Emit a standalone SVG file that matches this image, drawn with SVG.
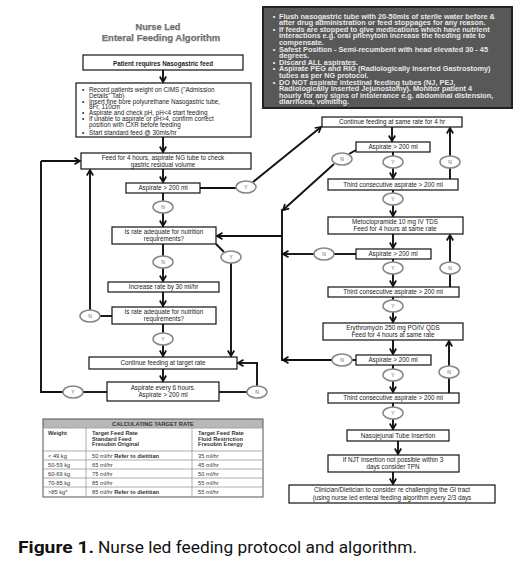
<svg xmlns="http://www.w3.org/2000/svg" width="518" height="563" viewBox="0 0 518 563">
<style>
.box{fill:#fff;stroke:#111;stroke-width:1.2}
.t{font-family:"Liberation Sans",Arial,sans-serif;font-size:6.3px;fill:#222}
.c{text-anchor:middle}
.b{font-weight:bold}
.el{fill:#fff;stroke:#888;stroke-width:1.5}
.et{font-family:"Liberation Sans",Arial,sans-serif;font-size:5px;fill:#666;text-anchor:middle}
.nt{font-family:"Liberation Sans",Arial,sans-serif;font-size:6.5px;font-weight:bold;fill:#e8e8e8}
.tt{font-family:"Liberation Sans",Arial,sans-serif;font-size:5.7px;fill:#333}
.ln{fill:none;stroke:#111;stroke-width:1.9}
.ar{fill:none;stroke:#111;stroke-width:1.9;marker-end:url(#ah)}
.grid{stroke:#999;stroke-width:0.8}
</style>
<defs>
<marker id="ah" viewBox="0 0 8 8" refX="6.5" refY="4" markerWidth="8" markerHeight="8" markerUnits="userSpaceOnUse" orient="auto">
<path d="M1,0.8 L6.5,4 L1,7.2" fill="none" stroke="#111" stroke-width="1.7"/>
</marker>
</defs>
<rect width="518" height="563" fill="#fff"/>

<g id="title">
<text x="158" y="30" class="c b" font-family="Liberation Sans,Arial,sans-serif" font-size="9.2" fill="#7a7a7a" stroke="#555" stroke-width="0.25">Nurse Led</text>
<text x="161" y="41" class="c b" font-family="Liberation Sans,Arial,sans-serif" font-size="9.5" fill="#7a7a7a" stroke="#555" stroke-width="0.25">Enteral Feeding Algorithm</text>
</g>

<g id="notes">
<rect x="263" y="7" width="249" height="101" fill="#585858" stroke="#222" stroke-width="2"/>
<g transform="translate(279,0) scale(1.13,1) translate(-279,0)">
<text class="nt" x="273.5" y="18.7">•</text><text class="nt" x="279" y="18.7">Flush nasogastric tube with 20-50mls of sterile water before &amp;</text>
<text class="nt" x="279" y="25.3">after drug administration or feed stoppages for any reason.</text>
<text class="nt" x="273.5" y="31.9">•</text><text class="nt" x="279" y="31.9">If feeds are stopped to give medications which have nutrient</text>
<text class="nt" x="279" y="38.5">interactions e.g. oral phenytoin increase the feeding rate to</text>
<text class="nt" x="279" y="45.1">compensate.</text>
<text class="nt" x="273.5" y="51.7">•</text><text class="nt" x="279" y="51.7">Safest Position - Semi-recumbent with head elevated 30 - 45</text>
<text class="nt" x="279" y="58.3">degrees.</text>
<text class="nt" x="273.5" y="64.9">•</text><text class="nt" x="279" y="64.9">Discard ALL aspirates.</text>
<text class="nt" x="273.5" y="71.5">•</text><text class="nt" x="279" y="71.5">Aspirate PEG and RIG (Radiologically Inserted Gastrostomy)</text>
<text class="nt" x="279" y="78.1">tubes as per NG protocol.</text>
<text class="nt" x="273.5" y="84.7">•</text><text class="nt" x="279" y="84.7">DO NOT aspirate intestinal feeding tubes (NJ, PEJ,</text>
<text class="nt" x="279" y="91.3">Radiologically Inserted Jejunostomy). Monitor patient 4</text>
<text class="nt" x="279" y="97.9">hourly for any signs of intolerance e.g. abdominal distension,</text>
<text class="nt" x="279" y="104.5">diarrhoea, vomiting.</text>
</g>
</g>

<g id="n_patient">
<rect class="box" x="83" y="55" width="160" height="15" stroke-width="1.6"/>
<text class="t c b" x="163" y="65.5" font-size="7.8">Patient requires Nasogastric feed</text>
</g>

<g id="n_bullets">
<rect class="box" x="76" y="83" width="175" height="54"/>
<text class="t" x="82" y="92">•</text><text class="t" x="89" y="92">Record patients weight on CIMS ("Admission</text>
<text class="t" x="89" y="97.7">Details" Tab)</text>
<text class="t" x="82" y="103.7">•</text><text class="t" x="89" y="103.7">Insert fine bore polyurethane Nasogastric tube,</text>
<text class="t" x="89" y="109.2">8Fr, 110cm</text>
<text class="t" x="82" y="115.3">•</text><text class="t" x="89" y="115.3">Aspirate and check pH, pH&lt;4 start feeding</text>
<text class="t" x="82" y="121">•</text><text class="t" x="89" y="121">If unable to aspirate or pH&gt;4, confirm correct</text>
<text class="t" x="89" y="127">position with CXR before feeding</text>
<text class="t" x="82" y="134.5">•</text><text class="t" x="89" y="134.5">Start standard feed @ 30mls/hr</text>
</g>

<g id="n_feed4">
<rect class="box" x="81" y="153" width="170" height="16"/>
<text class="t c" x="163" y="159.8">Feed for 4 hours, aspirate NG tube to check</text>
<text class="t c" x="163" y="166.5">gastric residual volume</text>
</g>
<g id="n_asp1">
<rect class="box" x="126" y="183" width="74" height="10"/>
<text class="t c" x="163" y="190.4">Aspirate &gt; 200 ml</text>
</g>
<g id="n_rate1">
<rect class="box" x="112" y="227" width="104" height="17"/>
<text class="t c" x="164" y="234">Is rate adequate for nutrition</text>
<text class="t c" x="164" y="241">requirements?</text>
</g>
<g id="n_inc">
<rect class="box" x="108" y="282" width="111" height="10"/>
<text class="t c" x="163.5" y="289.4">Increase rate by 30 ml/hr</text>
</g>
<g id="n_rate2">
<rect class="box" x="112" y="307" width="104" height="17"/>
<text class="t c" x="164" y="314">Is rate adequate for nutrition</text>
<text class="t c" x="164" y="321">requirements?</text>
</g>
<g id="n_target">
<rect class="box" x="89" y="357" width="148" height="12"/>
<text class="t c" x="163" y="365.3">Continue feeding at target rate</text>
</g>
<g id="n_asp6">
<rect class="box" x="107" y="382" width="112" height="19"/>
<text class="t c" x="163" y="390">Aspirate every 6 hours.</text>
<text class="t c" x="163" y="397.3">Aspirate &gt; 200 ml</text>
</g>

<g id="n_same">
<rect class="box" x="322" y="117" width="140" height="10"/>
<text class="t c" x="392" y="124.4">Continue feeding at same rate for 4 hr</text>
</g>
<g id="n_aspr1">
<rect class="box" x="356" y="142" width="74" height="10"/>
<text class="t c" x="393" y="149.4">Aspirate &gt; 200 ml</text>
</g>
<g id="n_third1">
<rect class="box" x="328" y="179" width="130" height="11"/>
<text class="t c" x="393" y="186.9">Third consecutive aspirate &gt; 200 ml</text>
</g>
<g id="n_meto">
<rect class="box" x="328" y="217" width="135" height="17"/>
<text class="t c" x="395" y="224">Metoclopramide 10 mg IV TDS</text>
<text class="t c" x="395" y="231">Feed for 4 hours at same rate</text>
</g>
<g id="n_aspr2">
<rect class="box" x="356" y="249" width="75" height="10"/>
<text class="t c" x="393" y="256.4">Aspirate &gt; 200 ml</text>
</g>
<g id="n_third2">
<rect class="box" x="328" y="287" width="131" height="10"/>
<text class="t c" x="393" y="294.4">Third consecutive aspirate &gt; 200 ml</text>
</g>
<g id="n_ery">
<rect class="box" x="323" y="323" width="140" height="17"/>
<text class="t c" x="393" y="330">Erythromycin 250 mg PO/IV QDS</text>
<text class="t c" x="393" y="337">Feed for 4 hours at same rate</text>
</g>
<g id="n_aspr3">
<rect class="box" x="356" y="355" width="75" height="10"/>
<text class="t c" x="393" y="362.4">Aspirate &gt; 200 ml</text>
</g>
<g id="n_third3">
<rect class="box" x="328" y="393" width="131" height="10"/>
<text class="t c" x="393" y="400.4">Third consecutive aspirate &gt; 200 ml</text>
</g>
<g id="n_nj">
<rect class="box" x="347" y="430" width="102" height="11"/>
<text class="t c" x="398" y="437.8">Nasojejunal Tube Insertion</text>
</g>
<g id="n_njt">
<rect class="box" x="328" y="455" width="131" height="17"/>
<text class="t c" x="393" y="462">If NJT insertion not possible within 3</text>
<text class="t c" x="393" y="469">days consider TPN</text>
</g>
<g id="n_clin">
<rect class="box" x="289" y="485" width="206" height="18"/>
<text class="t c" x="392" y="492">Clinician/Dietician to consider re challenging the GI tract</text>
<text class="t c" x="392" y="499.5">(using nurse led enteral feeding algorithm every 2/3 days</text>
</g>

<g id="connectors">
<path class="ar" d="M163,70 V82"/>
<path class="ar" d="M163,137 V152"/>
<path class="ar" d="M163,169 V182"/>
<path class="ln" d="M163,193 V201"/>
<path class="ar" d="M163,213 V226"/>
<path class="ln" d="M163,244 V256"/>
<path class="ar" d="M163,268 V281"/>
<path class="ar" d="M163,292 V306"/>
<path class="ln" d="M163,324 V333"/>
<path class="ar" d="M163,345 V356"/>
<path class="ar" d="M163,369 V381"/>
<path class="ln" d="M200,188 H236"/>
<path class="ar" d="M253,182 L321,127"/>
<path class="ln" d="M216,244 L224,252"/>
<path class="ar" d="M231,263 V356"/>
<path class="ln" d="M112,316 H100"/>
<path class="ar" d="M90,310 V170"/>
<path class="ln" d="M107,392 H83"/>
<path class="ln" d="M63,392 H41 V161"/>
<path class="ar" d="M41,161 H80"/>
<path class="ln" d="M219,392 H247"/>
<path class="ln" d="M257,386 V363"/>
<path class="ar" d="M258,363 H238"/>
<path class="ar" d="M392,127 V141"/>
<path class="ln" d="M393,152 V156"/>
<path class="ar" d="M393,168 V178"/>
<path class="ln" d="M393,190 V193"/>
<path class="ar" d="M393,205 V216"/>
<path class="ar" d="M393,234 V248"/>
<path class="ln" d="M393,259 V262"/>
<path class="ar" d="M393,274 V286"/>
<path class="ln" d="M393,297 V300"/>
<path class="ar" d="M393,312 V322"/>
<path class="ar" d="M393,340 V354"/>
<path class="ln" d="M393,365 V369"/>
<path class="ar" d="M393,381 V392"/>
<path class="ln" d="M393,403 V407"/>
<path class="ar" d="M393,419 V429"/>
<path class="ar" d="M398,441 V454"/>
<path class="ar" d="M393,472 V484"/>
<path class="ln" d="M450,179 V168"/>
<path class="ar" d="M450,156 V128"/>
<path class="ln" d="M450,287 V274"/>
<path class="ar" d="M450,262 V235"/>
<path class="ln" d="M449,393 V378"/>
<path class="ar" d="M449,366 V341"/>
<path class="ln" d="M356,150 L349,154"/>
<path class="ar" d="M334,164 L283,210"/>
<path class="ln" d="M356,254 H334"/>
<path class="ar" d="M314,254 H283"/>
<path class="ln" d="M356,360 H352"/>
<path class="ar" d="M332,360 H283"/>
<path class="ln" d="M282,209 V361"/>
<path class="ar" d="M282,236 H217"/>
</g>

<g id="y1"><ellipse class="el" cx="246" cy="187" rx="10" ry="6"/><text class="et" x="246" y="189">Y</text></g>
<g id="n1"><ellipse class="el" cx="163" cy="207" rx="10" ry="6"/><text class="et" x="163" y="209">N</text></g>
<g id="y2"><ellipse class="el" cx="231" cy="257" rx="10" ry="6"/><text class="et" x="231" y="259">Y</text></g>
<g id="n2"><ellipse class="el" cx="163" cy="262" rx="10" ry="6"/><text class="et" x="163" y="264">N</text></g>
<g id="n3"><ellipse class="el" cx="90" cy="316" rx="10" ry="6"/><text class="et" x="90" y="318">N</text></g>
<g id="y3"><ellipse class="el" cx="163" cy="339" rx="10" ry="6"/><text class="et" x="163" y="341">Y</text></g>
<g id="y4"><ellipse class="el" cx="73" cy="392" rx="10" ry="6"/><text class="et" x="73" y="394">Y</text></g>
<g id="n4"><ellipse class="el" cx="257" cy="392" rx="10" ry="6"/><text class="et" x="257" y="394">N</text></g>
<g id="nr1"><ellipse class="el" cx="342" cy="159" rx="10" ry="6"/><text class="et" x="342" y="161">N</text></g>
<g id="yr1"><ellipse class="el" cx="393" cy="162" rx="10" ry="6"/><text class="et" x="393" y="164">Y</text></g>
<g id="nr1b"><ellipse class="el" cx="450" cy="162" rx="10" ry="6"/><text class="et" x="450" y="164">N</text></g>
<g id="yr2"><ellipse class="el" cx="393" cy="199" rx="10" ry="6"/><text class="et" x="393" y="201">Y</text></g>
<g id="nr2"><ellipse class="el" cx="324" cy="254" rx="10" ry="6"/><text class="et" x="324" y="256">N</text></g>
<g id="yr3"><ellipse class="el" cx="393" cy="268" rx="10" ry="6"/><text class="et" x="393" y="270">Y</text></g>
<g id="nr2b"><ellipse class="el" cx="450" cy="268" rx="10" ry="6"/><text class="et" x="450" y="270">N</text></g>
<g id="yr4"><ellipse class="el" cx="393" cy="306" rx="10" ry="6"/><text class="et" x="393" y="308">Y</text></g>
<g id="nr3"><ellipse class="el" cx="342" cy="360" rx="10" ry="6"/><text class="et" x="342" y="362">N</text></g>
<g id="yr5"><ellipse class="el" cx="393" cy="375" rx="10" ry="6"/><text class="et" x="393" y="377">Y</text></g>
<g id="nr3b"><ellipse class="el" cx="449" cy="372" rx="10" ry="6"/><text class="et" x="449" y="374">N</text></g>
<g id="yr6"><ellipse class="el" cx="393" cy="413" rx="10" ry="6"/><text class="et" x="393" y="415">Y</text></g>

<g id="table">
<rect x="43" y="419" width="220" height="9" fill="#b8b8b8"/>
<rect x="43" y="419" width="220" height="78" fill="none" stroke="#555" stroke-width="1"/>
<line class="grid" x1="43" y1="428" x2="263" y2="428"/>
<line class="grid" x1="43" y1="451" x2="263" y2="451"/>
<line class="grid" x1="43" y1="460" x2="263" y2="460"/>
<line class="grid" x1="43" y1="469" x2="263" y2="469"/>
<line class="grid" x1="43" y1="478" x2="263" y2="478"/>
<line class="grid" x1="43" y1="487" x2="263" y2="487"/>
<line class="grid" x1="86" y1="428" x2="86" y2="497"/>
<line class="grid" x1="192" y1="428" x2="192" y2="497"/>
<text class="tt b c" x="153" y="425.8">CALCULATING TARGET RATE</text>
<text class="tt b" x="48" y="435">Weight</text>
<text class="tt b" x="92" y="435">Target Feed Rate</text>
<text class="tt b" x="92" y="440.5">Standard Feed</text>
<text class="tt b" x="92" y="446">Fresubin Original</text>
<text class="tt b" x="198" y="435">Target Feed Rate</text>
<text class="tt b" x="198" y="440.5">Fluid Restriction</text>
<text class="tt b" x="198" y="446">Fresubin Energy</text>
<text class="tt" x="48" y="457.5">&lt; 49 kg</text>
<text class="tt" x="92" y="457.5">50 ml/hr <tspan class="b">Refer to dietitian</tspan></text>
<text class="tt" x="198" y="457.5">35 ml/hr</text>
<text class="tt" x="48" y="466.5">50-59 kg</text>
<text class="tt" x="92" y="466.5">65 ml/hr</text>
<text class="tt" x="198" y="466.5">45 ml/hr</text>
<text class="tt" x="48" y="475.5">60-69 kg</text>
<text class="tt" x="92" y="475.5">75 ml/hr</text>
<text class="tt" x="198" y="475.5">50 ml/hr</text>
<text class="tt" x="48" y="484.5">70-85 kg</text>
<text class="tt" x="92" y="484.5">85 ml/hr</text>
<text class="tt" x="198" y="484.5">55 ml/hr</text>
<text class="tt" x="48" y="493.5">&gt;85 kg*</text>
<text class="tt" x="92" y="493.5">85 ml/hr <tspan class="b">Refer to dietitian</tspan></text>
<text class="tt" x="198" y="493.5">55 ml/hr</text>
</g>

<g id="caption">
<text x="18" y="553" font-family="Roboto,'Liberation Sans',sans-serif" font-size="16.5" font-weight="bold" fill="#111" textLength="76" lengthAdjust="spacingAndGlyphs">Figure 1.</text>
<text x="98" y="553" font-family="Roboto,'Liberation Sans',sans-serif" font-size="16.5" fill="#111" textLength="319" lengthAdjust="spacingAndGlyphs">Nurse led feeding protocol and algorithm.</text>
</g>
</svg>
